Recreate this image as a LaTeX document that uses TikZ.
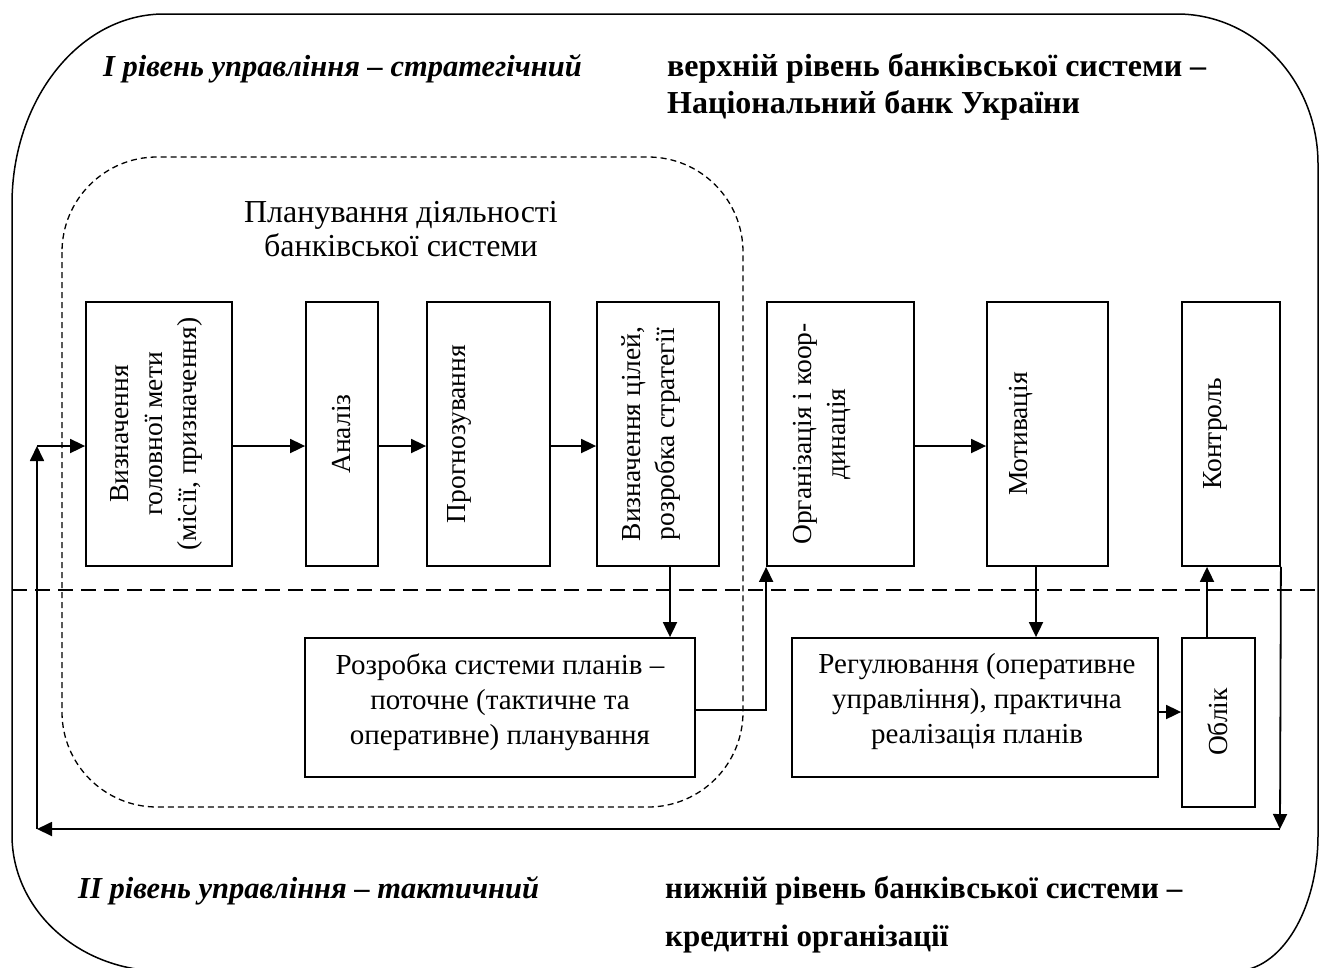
\documentclass[tikz,border=0pt]{standalone}
\usepackage{fontspec}
\setmainfont{Liberation Serif}
\usetikzlibrary{arrows.meta,calc}

\begin{document}
\begin{tikzpicture}[x=1pt,y=-1pt,
  box/.style={draw, line width=1.8pt, inner sep=0pt},
  vtext/.style={rotate=90, align=center, inner sep=0pt,
    font=\fontsize{27.5}{34}\selectfont},
  htext/.style={align=center, inner sep=0pt,
    font=\fontsize{29}{35}\selectfont},
  link/.style={line width=1.8pt},
  arr/.style={line width=1.8pt, -{Triangle[length=15pt,width=14pt]}},
  headit/.style={anchor=base west, inner sep=0pt,
    font=\fontsize{30.5}{37}\selectfont\bfseries\itshape},
  headbf/.style={anchor=base west, align=left, inner sep=0pt,
    font=\fontsize{32}{37}\selectfont\bfseries},
  levelline/.style={line width=1.6pt, dash pattern=on 15pt off 8pt},
  planframe/.style={line width=1.3pt, dash pattern=on 6pt off 4pt, rounded corners=95pt},
  outer/.style={line width=1.5pt}
]
\useasboundingbox (0,0) rectangle (1320,967);
\clip (0,0) rectangle (1320,967);

% outer frame with elliptical corners
\draw[outer] (12,204)
  .. controls (12,99) and (80,14) .. (164,14)
  -- (1177,14)
  .. controls (1255,14) and (1318,81) .. (1318,164)
  -- (1318,835)
  .. controls (1318,910) and (1281,971) .. (1235,971)
  -- (162,971)
  .. controls (79,971) and (12,910) .. (12,835)
  -- cycle;

% boundary between the two management levels
\draw[levelline] (12,590) -- (1320,590);

% planning area
\draw[planframe] (62,157) rectangle (743,807);
\node[htext, font=\fontsize{32}{34}\selectfont] (plan) at (401,229) {Планування діяльності\\банківської системи};

% headings (the base anchor of a two-line node is the baseline of its last line)
\node[headit] (lvl1) at (103,76) {I рівень управління – стратегічний};
\node[headbf] (nbu) at (667,113) {верхній рівень банківської системи –\\Національний банк України};
\node[headit] (lvl2) at (78,898) {II рівень управління – тактичний};
\node[headbf, font=\fontsize{31}{48}\selectfont\bfseries] (banks) at (665,946) {нижній рівень банківської системи –\\кредитні організації};

% upper row of boxes
\node[box, minimum width=146pt, minimum height=264pt] (b1) at (159,434) {};
\node[box, minimum width=72pt,  minimum height=264pt] (b2) at (342,434) {};
\node[box, minimum width=123pt, minimum height=264pt] (b3) at (488.5,434) {};
\node[box, minimum width=122pt, minimum height=264pt] (b4) at (658,434) {};
\node[box, minimum width=147pt, minimum height=264pt] (b5) at (840.5,434) {};
\node[box, minimum width=121pt, minimum height=264pt] (b6) at (1047.5,434) {};
\node[box, minimum width=98pt,  minimum height=264pt] (b7) at (1231,434) {};

\node[vtext] (t1) at (156,434) {Визначення\\головної мети\\(місії, призначення)};
\node[vtext] (t2) at (342,434) {Аналіз};
\node[vtext] (t3) at (459,434) {Прогнозування};
\node[vtext] (t4) at (651,434) {Визначення цілей,\\розробка стратегії};
\node[vtext] (t5) at (822,434) {Організація і коор-\\динація};
\node[vtext] (t6) at (1021,434) {Мотивація};
\node[vtext] (t7) at (1215,434) {Контроль};

% lower row of boxes
\node[box, minimum width=390pt, minimum height=139pt] (r1) at (500,707.5) {};
\node[box, minimum width=366pt, minimum height=139pt] (r2) at (975,707.5) {};
\node[box, minimum width=73pt,  minimum height=169pt] (r3) at (1218.5,722.5) {};

\node[htext] (s1) at (500,702) {Розробка системи планів –\\поточне (тактичне та\\оперативне) планування};
\node[htext] (s2) at (977,702) {Регулювання (оперативне\\управління), практична\\реалізація планів};
\node[vtext] (s3) at (1218,722) {Облік};

% connectors
\coordinate (row) at (0,446);
\coordinate (fbl) at (37,829);
\coordinate (fbr) at (1280,829);
\coordinate (fbt) at (37,446);

\draw[arr] (b1.east|-row) -- (b2.west|-row);
\draw[arr] (b2.east|-row) -- (b3.west|-row);
\draw[arr] (b3.east|-row) -- (b4.west|-row);
\draw[arr] (b5.east|-row) -- (b6.west|-row);

\draw[arr] (b4.south-|670,0) -- (r1.north-|670,0);
\draw[arr] (r1.east|-0,710) -- (b5.south west|-0,710) -- (b5.south west);
\draw[arr] (b6.south-|1036,0) -- (r2.north-|1036,0);
\draw[arr] (r2.east|-0,712) -- (r3.west|-0,712);
\draw[arr] (r3.north-|1207,0) -- (b7.south-|1207,0);

\draw[arr] (b7.south east) -- (fbr);
\draw[arr] (fbr) -- (fbl);
\draw[arr] (fbl) -- (fbt);
\draw[arr] (fbt) -- (b1.west|-row);
\end{tikzpicture}
\end{document}
